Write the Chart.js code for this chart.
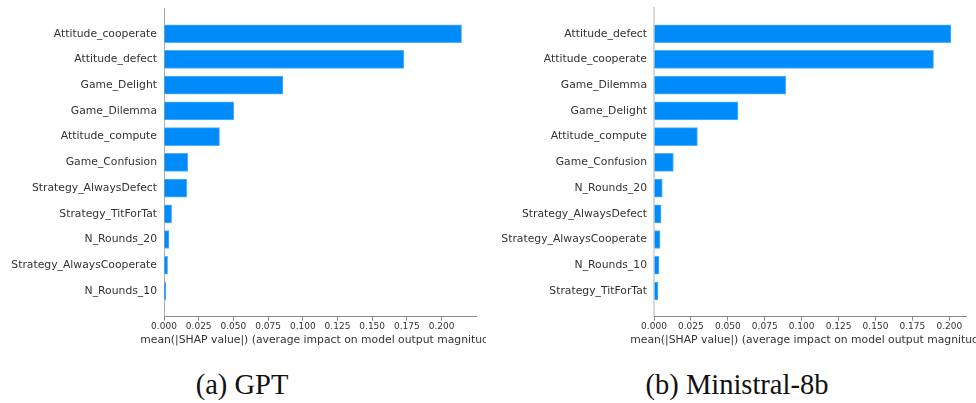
<!DOCTYPE html>
<html>
<head>
<meta charset="utf-8">
<script src="https://cdn.jsdelivr.net/npm/chart.js@4.4.1/dist/chart.umd.min.js"></script>
<style>
  html, body { margin: 0; padding: 0; background: #fff; }
  #wrap { position: relative; width: 976px; height: 403px; overflow: hidden; }
  .panel { position: absolute; top: 0; width: 486px; height: 352px; }
  .caption {
    position: absolute; top: 371px; width: 300px; text-align: center;
    font-family: "Liberation Serif", "Times New Roman", serif; font-size: 28.5px; line-height: 28px; color: #111;
  }
</style>
</head>
<body>
<div id="wrap">
  <div class="panel" style="left:0"><canvas id="graficoGPT" width="486" height="352"></canvas></div>
  <div class="panel" style="left:490px"><canvas id="graficoMinistral" width="486" height="352"></canvas></div>
  <div class="caption" style="left:92px">(a) GPT</div>
  <div class="caption" style="left:587px">(b) Ministral-8b</div>
</div>
<script>
// Variables de cada modelo (orden de importancia)
const featuresGPT = ["Attitude_cooperate", "Attitude_defect", "Game_Delight", "Game_Dilemma", "Attitude_compute",
  "Game_Confusion", "Strategy_AlwaysDefect", "Strategy_TitForTat", "N_Rounds_20", "Strategy_AlwaysCooperate", "N_Rounds_10"];
const shapGPT = [0.2144, 0.1728, 0.0857, 0.0503, 0.0400, 0.0171, 0.0164, 0.0055, 0.0036, 0.0026, 0.0012];

const featuresMinistral = ["Attitude_defect", "Attitude_cooperate", "Game_Dilemma", "Game_Delight", "Attitude_compute",
  "Game_Confusion", "N_Rounds_20", "Strategy_AlwaysDefect", "Strategy_AlwaysCooperate", "N_Rounds_10", "Strategy_TitForTat"];
const shapMinistral = [0.2011, 0.1893, 0.0892, 0.0569, 0.0294, 0.0131, 0.0056, 0.0048, 0.0041, 0.0034, 0.0027];

const tituloEjeX = "mean(|SHAP value|) (average impact on model output magnitude)";

// Título del eje X sin el recorte de ancho que aplica Chart.js (se corta en el borde del canvas)
const tituloLibre = {
  id: "tituloLibre",
  afterDraw(chart) {
    const x = chart.scales.x;
    const ctx = chart.ctx;
    ctx.save();
    ctx.font = "10.8px 'DejaVu Sans'";
    ctx.fillStyle = "#333";
    ctx.textAlign = "center";
    ctx.textBaseline = "middle";
    ctx.fillText(tituloEjeX, (x.left + x.right) / 2, x.top + 23.5);
    ctx.restore();
  },
};

function crearGrafico(id, features, valores, maxX, colorEjeY, anchoEjeY) {
  const ctx = document.getElementById(id).getContext("2d");
  return new Chart(ctx, {
    type: "bar",
    data: {
      datasets: [
        {
          data: features.map((f, i) => ({ x: valores[i], y: i })),
          backgroundColor: "#008bfb",
          borderColor: "#55b0fb",
          borderWidth: 1,
          borderSkipped: "left",
          barThickness: 18,
        },
      ],
    },
    plugins: [tituloLibre],
    options: {
      indexAxis: "y",
      responsive: false,
      animation: false,
      layout: { padding: { top: 8, right: 10, left: 0, bottom: 0 } },
      plugins: { legend: { display: false }, tooltip: { enabled: false } },
      scales: {
        y: {
          type: "linear",
          reverse: true,
          offset: false,
          min: -1,
          max: features.length,
          afterFit: (scale) => {
            scale.width = 164;
            scale.paddingTop = 0;
            scale.paddingBottom = 0;
          },
          grid: { display: false, drawTicks: false, offset: false },
          border: { display: true, color: colorEjeY, width: anchoEjeY },
          ticks: {
            stepSize: 1,
            autoSkip: false,
            padding: 7,
            color: "#333",
            font: { family: "DejaVu Sans", size: 10.8 },
            callback: (v) => features[v] ?? "",
          },
        },
        x: {
          type: "linear",
          min: 0,
          max: maxX,
          afterFit: (scale) => { scale.height = 35.3; },
          grid: { drawOnChartArea: false, drawTicks: true, tickLength: 4, color: "#888" },
          border: { display: true, color: "#888", width: 1 },
          ticks: {
            stepSize: 0.025,
            includeBounds: false,
            padding: 1,
            color: "#333",
            font: { family: "DejaVu Sans", size: 9 },
            maxRotation: 0,
            callback: (v) => v.toFixed(3),
          },
        },
      },
    },
  });
}

crearGrafico("graficoGPT", featuresGPT, shapGPT, 0.2248, "#aaaaaa", 1);
crearGrafico("graficoMinistral", featuresMinistral, shapMinistral, 0.2113, "#d9d9d9", 2);
</script>
</body>
</html>
